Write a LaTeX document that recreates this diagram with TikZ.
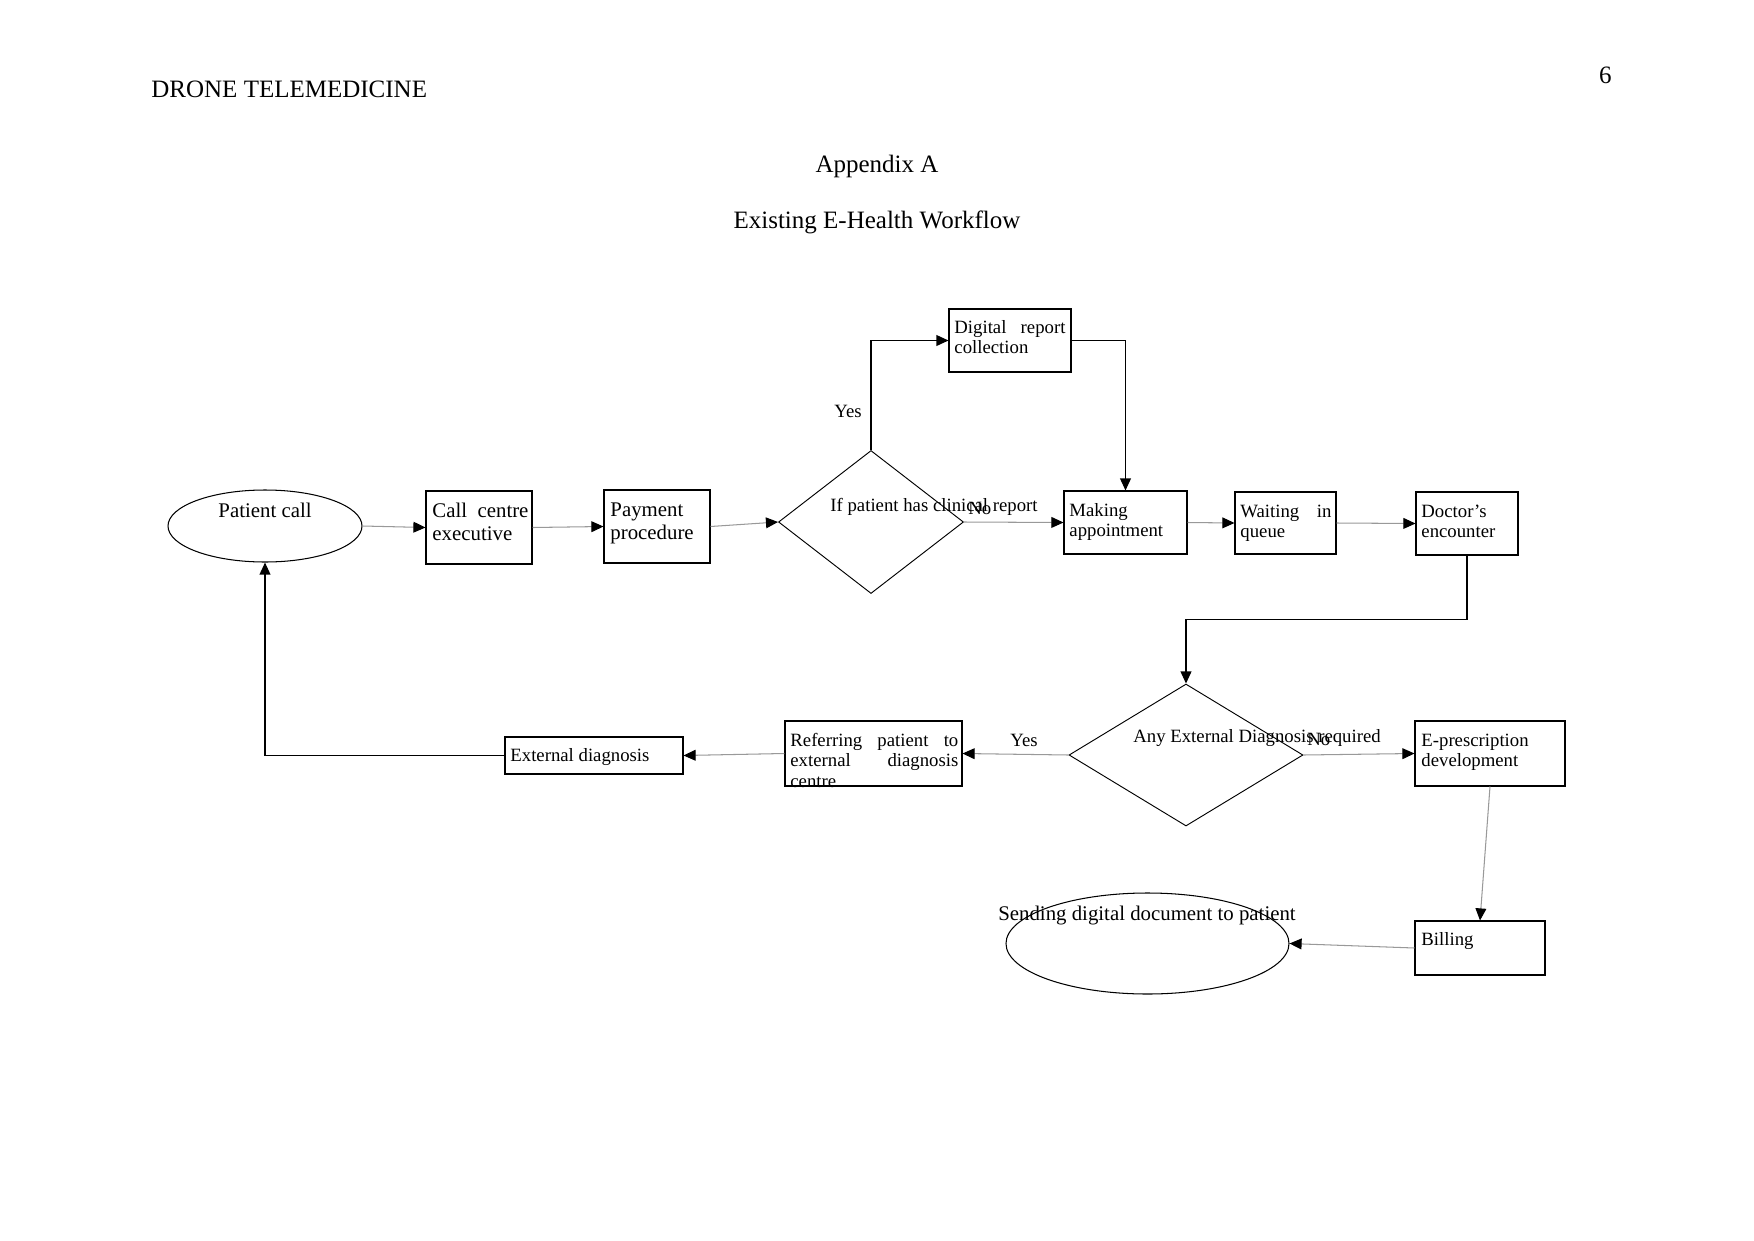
\documentclass[tikz,border=0pt]{standalone}
\usepackage{fontspec}
\setmainfont{Liberation Serif}
\usetikzlibrary{shapes.geometric,arrows.meta}
\newcommand{\jline}[2]{\leavevmode\hbox to #1{\spaceskip=0.25em plus 1fil\relax #2}}
\begin{document}
\begin{tikzpicture}[x=0.48pt,y=-0.48pt,
  wd/.style={minimum width=#1*0.48pt},
  ht/.style={minimum height=#1*0.48pt},
  box/.style={draw, line width=0.5pt, inner sep=0pt, rectangle},
  ell/.style={draw, line width=0.5pt, inner sep=0pt, ellipse},
  dia/.style={draw, line width=0.45pt, inner sep=0pt, diamond},
  tnine/.style={inner sep=0pt, anchor=base west, font=\fontsize{9}{10}\selectfont},
  tten/.style={inner sep=0pt, anchor=base west, font=\fontsize{10}{11.5}\selectfont},
  ttwelve/.style={inner sep=0pt, font=\fontsize{12}{14}\selectfont},
  gline/.style={draw=black!40, line width=0.5pt, -{Triangle[length=5.8pt,width=5.2pt,color=black]}},
  bline/.style={draw=black, line width=0.6pt, -{Triangle[length=5.8pt,width=5.2pt]}}
]
\fill[white] (0,0) rectangle (1754,1241);
\useasboundingbox (0,0) rectangle (1754,1241);

% header
\node[ttwelve, anchor=base west] (hdr) at (151,97) {DRONE TELEMEDICINE};
\node[ttwelve, anchor=base east] (pgn) at (1612,83) {6};
\node[ttwelve, anchor=base] (appx) at (877,172) {Appendix A};
\node[ttwelve, anchor=base] (ttl) at (877,228) {Existing E-Health Workflow};

% shapes
\node[ell, wd=194, ht=72] (pc) at (265,526) {};
\node[tten, anchor=base] (pct) at (265,517) {Patient call};

\node[box, wd=106, ht=73] (cce) at (479,527.5) {};
\node[tten, text width=46.1pt] (ccet) at (432,517) {\jline{46.1pt}{Call centre}\\executive};

\node[box, wd=106, ht=73] (pay) at (657,526.5) {};
\node[tten, text width=45pt] (payt) at (610,516) {Payment\\procedure};

\node[dia, wd=185, ht=143] (d1) at (871,522) {};
\node[tnine] (d1t) at (830,511) {If patient has clinical report};
\node[tnine] (yes1) at (834,417) {Yes};
\node[tnine] (no1) at (968,514) {No};

\node[box, wd=122, ht=63] (dig) at (1010,340.5) {};
\node[tnine, text width=53.3pt] (digt) at (954,333) {\jline{53.3pt}{Digital report}\\collection};

\node[box, wd=123, ht=63] (mak) at (1125.5,522.5) {};
\node[tnine, text width=55pt] (makt) at (1069,516) {Making\\appointment};

\node[box, wd=101, ht=62] (wai) at (1285.5,523) {};
\node[tnine, text width=43.7pt] (wait) at (1240,517) {\jline{43.7pt}{Waiting in}\\queue};

\node[box, wd=102, ht=63] (doc) at (1467,523.5) {};
\node[tnine, text width=43pt] (doct) at (1421,517) {Doctor’s\\encounter};

\node[dia, wd=234, ht=142] (d2) at (1186,755) {};
\node[tnine] (d2t) at (1133,742) {Any External Diagnosis required};
\node[tnine] (no2) at (1307,745) {No};
\node[tnine] (yes2) at (1010,746) {Yes};

\node[box, wd=150, ht=65] (epr) at (1490,753.5) {};
\node[tnine, text width=67pt] (eprt) at (1421,746) {E-prescription\\development};

\node[box, wd=177, ht=65] (ref) at (873.5,753.5) {};
\node[tnine, text width=80.6pt] (reft) at (790,746) {\jline{80.6pt}{Referring patient to}\\\jline{80.6pt}{external diagnosis}\\centre};

\node[box, wd=178, ht=37] (ext) at (594,755.5) {};
\node[tnine] (extt) at (510,761) {External diagnosis};

\node[box, wd=130, ht=54] (bil) at (1480,948) {};
\node[tnine] (bilt) at (1421,945) {Billing};

\node[ell, wd=283, ht=101] (snd) at (1147.5,943.5) {};
\node[tten, anchor=base] (sndt) at (1147,920) {Sending digital document to patient};

% connectors
\draw[gline] (pc.east) -- (cce.west);
\draw[gline] (cce.east) -- (pay.west);
\draw[gline] (pay.east) -- (d1.west);
\draw[bline] (d1.north) |- (dig.west);
\draw[bline] (dig.east) -| (mak.north);
\draw[gline] (d1.east) -- (mak.west);
\draw[gline] (mak.east) -- (wai.west);
\draw[gline] (wai.east) -- (doc.west);
\draw[bline] (doc.south) -- ++(0,64) -| (d2.north);
\draw[gline] (d2.east) -- (epr.west);
\draw[gline] (d2.west) -- (ref.east);
\draw[gline] (ref.west) -- (ext.east);
\draw[bline] (ext.west) -| (pc.south);
\draw[gline] (epr.south) -- (bil.north);
\draw[gline] (bil.west) -- (snd.east);
\end{tikzpicture}
\end{document}
